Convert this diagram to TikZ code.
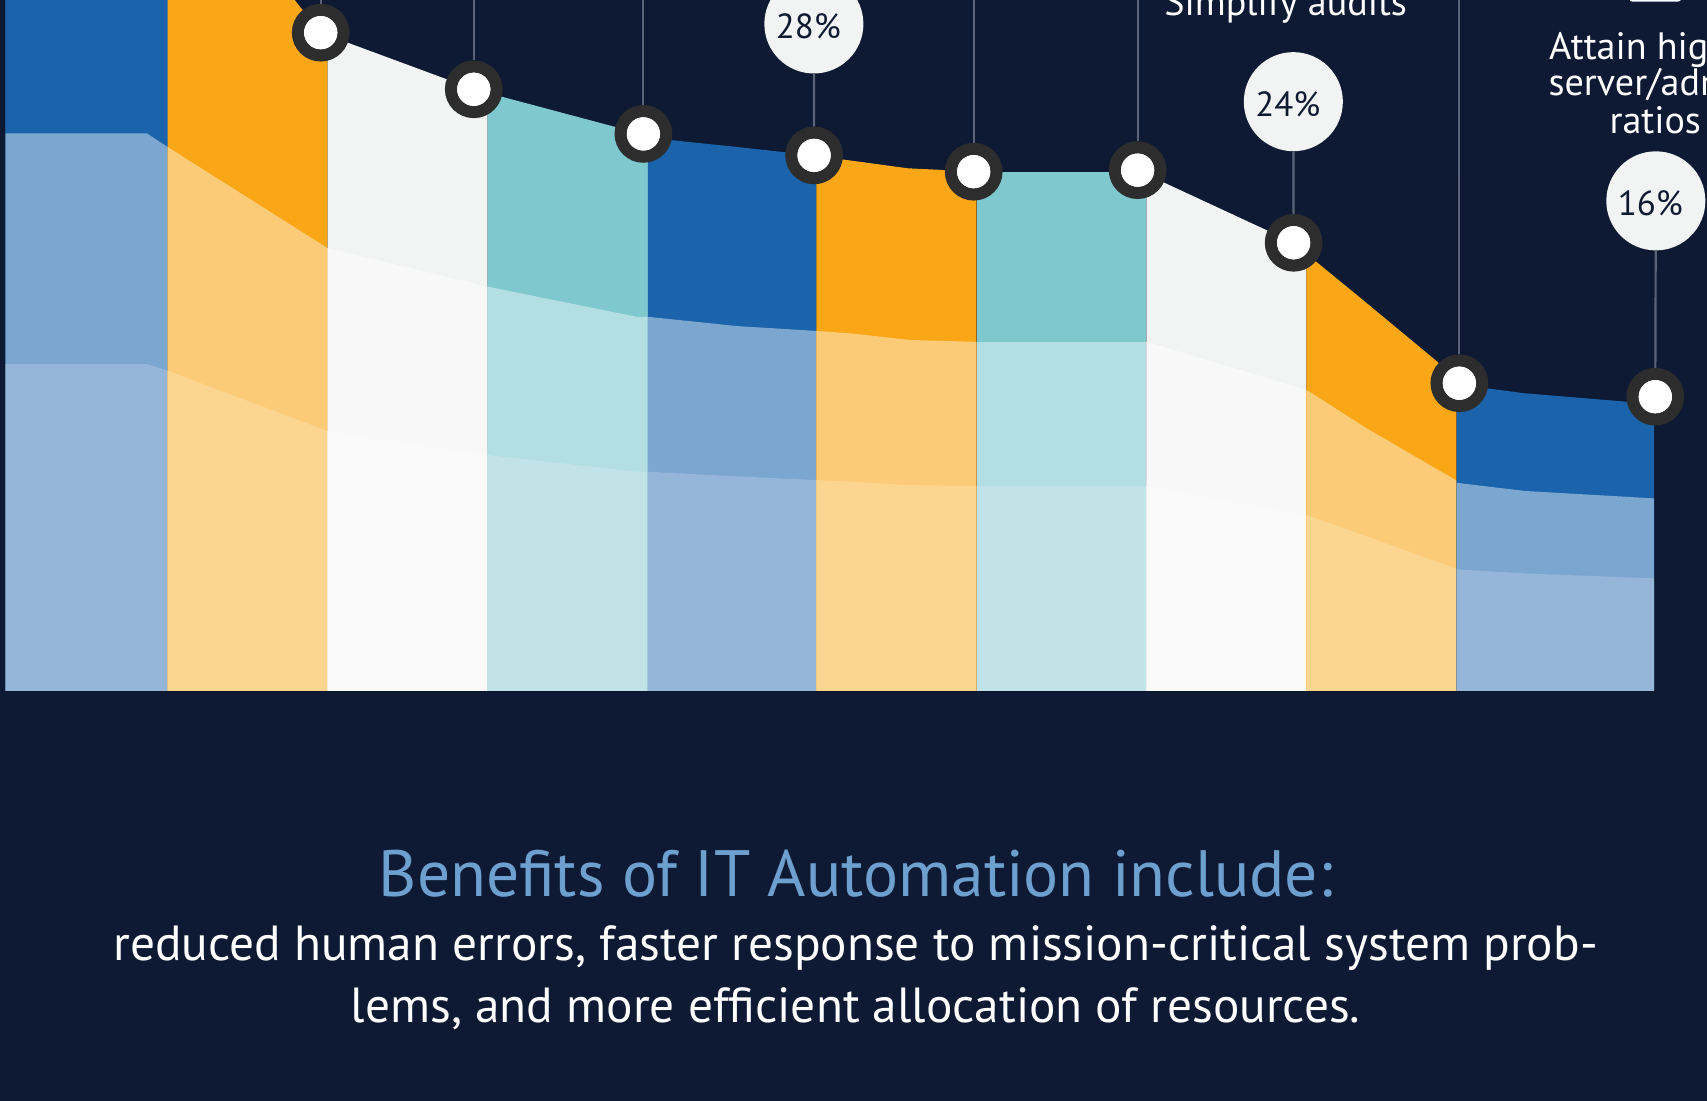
\documentclass[tikz,border=0pt]{standalone}
\usepackage{fontspec}
\setmainfont{PT Sans}
\definecolor{bg}{HTML}{0E1A33}
\definecolor{blueA}{HTML}{1B63AB}
\definecolor{blueB}{HTML}{7BA6CF}
\definecolor{blueC}{HTML}{96B6D9}
\definecolor{orA}{HTML}{F9A717}
\definecolor{orB}{HTML}{FCCB77}
\definecolor{orC}{HTML}{FCD591}
\definecolor{grA}{HTML}{F2F4F3}
\definecolor{grB}{HTML}{F8F8F8}
\definecolor{grC}{HTML}{F9F9F9}
\definecolor{tlA}{HTML}{7EC8CE}
\definecolor{tlB}{HTML}{B3DFE2}
\definecolor{tlC}{HTML}{C1E3E7}
\definecolor{ringc}{HTML}{2D2D2D}
\definecolor{connc}{HTML}{5A6377}
\definecolor{bubble}{HTML}{F2F4F3}
\definecolor{titlec}{HTML}{6DA0CF}
\definecolor{darktext}{HTML}{0F1A32}
\begin{document}
\begin{tikzpicture}[x=1pt,y=-1pt,
  marker/.style={circle,fill=white,draw=ringc,line width=11.2pt,minimum size=41.8pt,inner sep=0pt},
  bubblenode/.style={circle,fill=bubble,minimum size=91pt,inner sep=0pt},
  pcttext/.style={text=darktext,font=\fontsize{32}{34}\selectfont},
  conn/.style={draw=connc,line width=2pt},
  lab/.style={text=white,font=\fontsize{35}{38}\selectfont,inner sep=0pt},
  titletext/.style={text=titlec,font=\fontsize{60.2}{64}\selectfont,inner sep=0pt},
  bodytext/.style={text=white,font=\fontsize{45.3}{50}\selectfont,inner sep=0pt}]
\fill[bg] (0,0) rectangle (1568,1011);
\useasboundingbox (0,0) rectangle (1568,1011);
\begin{scope}
\clip (0,0) rectangle (1568,1011);
% column 1
\fill[blueA] (5,-5) -- (154,-5) -- (154,634.7) -- (5,634.7) -- cycle;
\fill[blueB] (5,122.5) -- (135,122.5) -- (154,135) -- (154,634.7) -- (5,634.7) -- cycle;
\fill[blueC] (5,334.4) -- (135,334.4) -- (154,340.5) -- (154,634.7) -- (5,634.7) -- cycle;
% column 2
\fill[orA] (154,-5) -- (266.7,-5) -- (270.7,0) -- (294.6,30) -- (301,32.4) -- (301,634.7) -- (154,634.7) -- cycle;
\fill[orB] (154,135) -- (301,228) -- (301,634.7) -- (154,634.7) -- cycle;
\fill[orC] (154,340.5) -- (301,396) -- (301,634.7) -- (154,634.7) -- cycle;
% column 3
\fill[grA] (301,32.4) -- (435.2,82) -- (448,85.4) -- (448,634.7) -- (301,634.7) -- cycle;
\fill[grB] (301,228) -- (448,263.3) -- (448,634.7) -- (301,634.7) -- cycle;
\fill[grC] (301,396) -- (448,418) -- (448,634.7) -- (301,634.7) -- cycle;
% column 4
\fill[tlA] (448,85.4) -- (591,123.5) -- (595,125) -- (595,634.7) -- (448,634.7) -- cycle;
\fill[tlB] (448,263.3) -- (585,291) -- (595,291) -- (595,634.7) -- (448,634.7) -- cycle;
\fill[tlC] (448,418) -- (585,433.3) -- (595,433.3) -- (595,634.7) -- (448,634.7) -- cycle;
% column 5
\fill[blueA] (595,126.5) -- (674,134.7) -- (750,143) -- (750,634.7) -- (595,634.7) -- cycle;
\fill[blueB] (595,291) -- (677,299.5) -- (750,304) -- (750,634.7) -- (595,634.7) -- cycle;
\fill[blueC] (595,433.3) -- (665,437) -- (750,441) -- (750,634.7) -- (595,634.7) -- cycle;
% column 6
\fill[orA] (750,143.2) -- (833.9,154.6) -- (867.4,156.2) -- (897,157.7) -- (897,634.7) -- (750,634.7) -- cycle;
\fill[orB] (750,304) -- (780.8,306.2) -- (836,312.3) -- (897,314) -- (897,634.7) -- (750,634.7) -- cycle;
\fill[orC] (750,441) -- (780.8,442.5) -- (831,445.5) -- (897,446.5) -- (897,634.7) -- (750,634.7) -- cycle;
% column 7
\fill[tlA] (897,157.7) -- (1053,157.7) -- (1053,634.7) -- (897,634.7) -- cycle;
\fill[tlB] (897,314) -- (1053,314) -- (1053,634.7) -- (897,634.7) -- cycle;
\fill[tlC] (897,446.5) -- (1053,446.5) -- (1053,634.7) -- (897,634.7) -- cycle;
% column 8
\fill[grA] (1053,160.2) -- (1200,228.4) -- (1200,634.7) -- (1053,634.7) -- cycle;
\fill[grB] (1053,314) -- (1200,358) -- (1200,634.7) -- (1053,634.7) -- cycle;
\fill[grC] (1053,446.5) -- (1200,473) -- (1200,634.7) -- (1053,634.7) -- cycle;
% column 9
\fill[orA] (1200,233) -- (1252,275.6) -- (1320,332) -- (1338,349) -- (1338,634.7) -- (1200,634.7) -- cycle;
\fill[orB] (1200,358) -- (1253,392) -- (1338,441.5) -- (1338,634.7) -- (1200,634.7) -- cycle;
\fill[orC] (1200,473) -- (1258,493.6) -- (1338,522.5) -- (1338,634.7) -- (1200,634.7) -- cycle;
% column 10
\fill[blueA] (1338,352) -- (1365.7,356.7) -- (1400.9,361.3) -- (1494.3,369) -- (1519.4,370.5) -- (1519.4,634.7) -- (1338,634.7) -- cycle;
\fill[blueB] (1338,443.5) -- (1401,451) -- (1519.4,457.8) -- (1519.4,634.7) -- (1338,634.7) -- cycle;
\fill[blueC] (1338,523) -- (1401,526.7) -- (1519.4,531.3) -- (1519.4,634.7) -- (1338,634.7) -- cycle;
% faint chart edges
\draw[black,opacity=0.18,line width=0.7pt] (5,0) -- (5,634.7) -- (1519.4,634.7) -- (1519.4,370.5);
\foreach \xx in {897,1338} {\draw[black,opacity=0.12,line width=0.6pt] (\xx,160) -- (\xx,634.7);}
% white icon edge at top right
\draw[white,line width=1.8pt,rounded corners=2pt] (1497.5,-20) -- (1497.5,0.6) -- (1543.3,0.6) -- (1543.3,-20);
\end{scope}

% top anchor points of connectors
\coordinate (t1) at (294.6,-2);
\coordinate (t2) at (435.2,-2);
\coordinate (t3) at (591,-2);
\coordinate (t5) at (894.4,-2);
\coordinate (t6) at (1045,-2);
\coordinate (t8) at (1340.5,-2);

% markers
\node[marker] (m1) at (294.6,30) {};
\node[marker] (m2) at (435.2,82) {};
\node[marker] (m3) at (591,123) {};
\node[marker] (m4) at (747.8,142.7) {};
\node[marker] (m5) at (894.4,157.7) {};
\node[marker] (m6) at (1045,156.3) {};
\node[marker] (m7) at (1188.3,223) {};
\node[marker] (m8) at (1340.5,352) {};
\node[marker] (m9) at (1520.5,364.4) {};

% bubbles
\node[bubblenode,label={[pcttext,xshift=-5pt,yshift=-2pt]center:28\%}] (p28) at (747.6,22) {};
\node[bubblenode,label={[pcttext,xshift=-5pt,yshift=-2pt]center:24\%}] (p24) at (1188,93.4) {};
\node[bubblenode,label={[pcttext,xshift=-5pt,yshift=-2pt]center:16\%}] (p16) at (1521,184.5) {};

% connectors
\draw[conn] (t1) -- (m1);
\draw[conn] (t2) -- (m2);
\draw[conn] (t3) -- (m3);
\draw[conn] (p28) -- (m4);
\draw[conn] (t5) -- (m5);
\draw[conn] (t6) -- (m6);
\draw[conn] (p24) -- (m7);
\draw[conn] (t8) -- (m8);
\draw[conn] (p16) -- (m9);

% marker centres stay white above the connectors
\foreach \p in {m1,m2,m3,m4,m5,m6,m7,m8,m9} {
  \fill[white] (\p) circle (15.3pt);
}

% labels
\node[lab,anchor=base] (simp) at (1181,13.8) {Simplify audits};
\node[lab,anchor=base] (att1) at (1520.5,54.5) {Attain higher};
\node[lab,anchor=base] (att2) at (1520.5,88) {server/admin};
\node[lab,anchor=base] (att3) at (1520.5,122.5) {ratios};

% bottom text
\node[titletext,anchor=base] (ttl) at (786,823.7) {Benefits of IT Automation include:};
\node[bodytext,anchor=base] (b1) at (786,881.9) {reduced human errors, faster response to mission-critical system prob-};
\node[bodytext,anchor=base] (b2) at (786,939.4) {lems, and more efficient allocation of resources.};
\end{tikzpicture}
\end{document}
